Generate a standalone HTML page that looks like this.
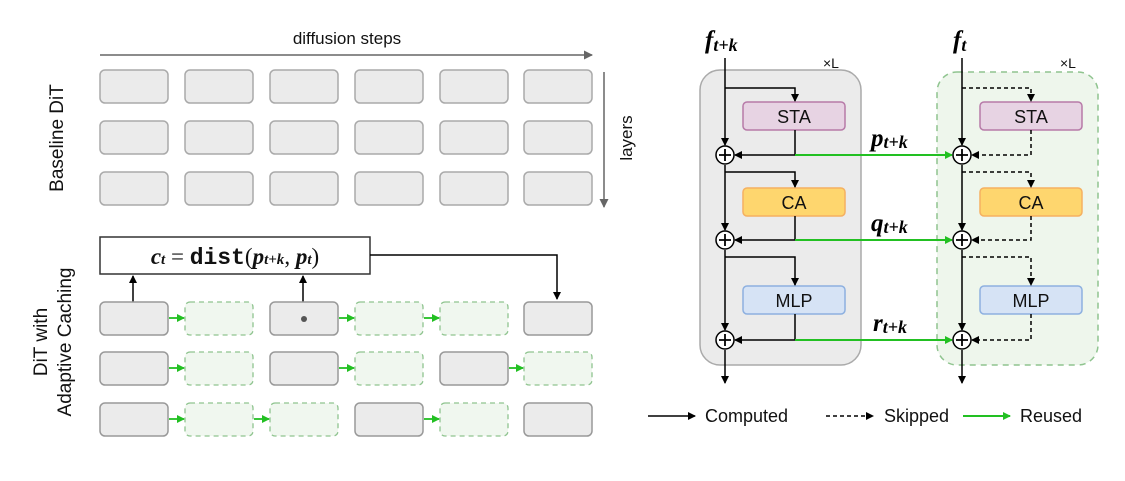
<!DOCTYPE html>
<html><head><meta charset="utf-8"><style>
html,body{margin:0;padding:0;background:#fff}
svg{display:block}
text{font-family:"Liberation Sans",sans-serif}
.m{font-family:"Liberation Serif",serif;font-style:italic;font-weight:bold}
</style></head><body>
<svg width="1125" height="481" viewBox="0 0 1125 481" xmlns="http://www.w3.org/2000/svg">
<defs>
<marker id="ak" markerWidth="8" markerHeight="8" refX="7" refY="4" orient="auto" markerUnits="userSpaceOnUse"><path d="M0,0 L8,4 L0,8 z" fill="#000"/></marker>
<marker id="ag" markerWidth="8" markerHeight="8" refX="7" refY="4" orient="auto" markerUnits="userSpaceOnUse"><path d="M0,0 L8,4 L0,8 z" fill="#22c022"/></marker>
<marker id="ay" markerWidth="9" markerHeight="9" refX="8" refY="4.5" orient="auto" markerUnits="userSpaceOnUse"><path d="M0,0 L9,4.5 L0,9 z" fill="#666"/></marker>
</defs>
<line x1="100" y1="55" x2="592" y2="55" stroke="#666" stroke-width="1.5" marker-end="url(#ay)"/>
<text x="347" y="44" font-size="17" text-anchor="middle" fill="#111">diffusion steps</text>
<line x1="604" y1="72" x2="604" y2="207" stroke="#666" stroke-width="1.5" marker-end="url(#ay)"/>
<text transform="translate(632,138) rotate(-90)" font-size="17" text-anchor="middle" fill="#111">layers</text>
<text transform="translate(63,138) rotate(-90)" font-size="19" text-anchor="middle" fill="#111">Baseline DiT</text>
<text transform="translate(47,342) rotate(-90)" font-size="19" text-anchor="middle" fill="#111">DiT with</text>
<text transform="translate(71,342) rotate(-90)" font-size="19" text-anchor="middle" fill="#111">Adaptive Caching</text>
<g fill="#ebebeb" stroke="#aaa" stroke-width="1.5">
<rect x="100" y="70" width="68" height="33" rx="5"/><rect x="185" y="70" width="68" height="33" rx="5"/><rect x="270" y="70" width="68" height="33" rx="5"/><rect x="355" y="70" width="68" height="33" rx="5"/><rect x="440" y="70" width="68" height="33" rx="5"/><rect x="524" y="70" width="68" height="33" rx="5"/>
<rect x="100" y="121" width="68" height="33" rx="5"/><rect x="185" y="121" width="68" height="33" rx="5"/><rect x="270" y="121" width="68" height="33" rx="5"/><rect x="355" y="121" width="68" height="33" rx="5"/><rect x="440" y="121" width="68" height="33" rx="5"/><rect x="524" y="121" width="68" height="33" rx="5"/>
<rect x="100" y="172" width="68" height="33" rx="5"/><rect x="185" y="172" width="68" height="33" rx="5"/><rect x="270" y="172" width="68" height="33" rx="5"/><rect x="355" y="172" width="68" height="33" rx="5"/><rect x="440" y="172" width="68" height="33" rx="5"/><rect x="524" y="172" width="68" height="33" rx="5"/>
</g>
<rect x="100" y="237" width="270" height="37" fill="#fff" stroke="#333" stroke-width="1.5"/>
<text x="235" y="264" font-size="23" text-anchor="middle" fill="#111"><tspan class="m" font-weight="normal">c</tspan><tspan class="m" font-weight="normal" font-size="15">t</tspan><tspan font-family="Liberation Serif"> = </tspan><tspan font-family="Liberation Mono" font-weight="bold">dist</tspan><tspan font-family="Liberation Serif">(</tspan><tspan class="m" font-weight="normal">p</tspan><tspan class="m" font-weight="normal" font-size="15">t+k</tspan><tspan font-family="Liberation Serif">,  </tspan><tspan class="m" font-weight="normal">p</tspan><tspan class="m" font-weight="normal" font-size="15">t</tspan><tspan font-family="Liberation Serif">)</tspan></text>
<g stroke="#000" stroke-width="1.5" fill="none">
<line x1="133" y1="302" x2="133" y2="276" marker-end="url(#ak)"/>
<line x1="303" y1="302" x2="303" y2="276" marker-end="url(#ak)"/>
<polyline points="370,255 557,255 557,299" marker-end="url(#ak)"/>
</g>
<g fill="#ebebeb" stroke="#999" stroke-width="1.5">
<rect x="100" y="302" width="68" height="33" rx="5"/><rect x="270" y="302" width="68" height="33" rx="5"/><rect x="524" y="302" width="68" height="33" rx="5"/>
<rect x="100" y="352" width="68" height="33" rx="5"/><rect x="270" y="352" width="68" height="33" rx="5"/><rect x="440" y="352" width="68" height="33" rx="5"/>
<rect x="100" y="403" width="68" height="33" rx="5"/><rect x="355" y="403" width="68" height="33" rx="5"/><rect x="524" y="403" width="68" height="33" rx="5"/>
</g>
<circle cx="304" cy="319" r="3" fill="#555"/>
<g fill="#f0f7ef" stroke="#8fc48f" stroke-width="1.3" stroke-dasharray="5,4">
<rect x="185" y="302" width="68" height="33" rx="5"/><rect x="355" y="302" width="68" height="33" rx="5"/><rect x="440" y="302" width="68" height="33" rx="5"/>
<rect x="185" y="352" width="68" height="33" rx="5"/><rect x="355" y="352" width="68" height="33" rx="5"/><rect x="524" y="352" width="68" height="33" rx="5"/>
<rect x="185" y="403" width="68" height="33" rx="5"/><rect x="270" y="403" width="68" height="33" rx="5"/><rect x="440" y="403" width="68" height="33" rx="5"/>
</g>
<g stroke="#22c022" stroke-width="1.8">
<line x1="169" y1="318" x2="184" y2="318" marker-end="url(#ag)"/><line x1="339" y1="318" x2="354" y2="318" marker-end="url(#ag)"/><line x1="424" y1="318" x2="439" y2="318" marker-end="url(#ag)"/>
<line x1="169" y1="368" x2="184" y2="368" marker-end="url(#ag)"/><line x1="339" y1="368" x2="354" y2="368" marker-end="url(#ag)"/><line x1="509" y1="368" x2="523" y2="368" marker-end="url(#ag)"/>
<line x1="169" y1="419" x2="184" y2="419" marker-end="url(#ag)"/><line x1="254" y1="419" x2="269" y2="419" marker-end="url(#ag)"/><line x1="424" y1="419" x2="439" y2="419" marker-end="url(#ag)"/>
</g>
<rect x="700" y="70" width="161" height="295" rx="20" fill="#ebebeb" stroke="#aaa" stroke-width="1.5"/>
<rect x="937" y="72" width="161" height="293" rx="20" fill="#eef6ec" stroke="#8fc48f" stroke-width="1.5" stroke-dasharray="6,5"/>
<text x="823" y="68" font-size="14" font-family="Liberation Serif" fill="#111">×L</text>
<text x="1060" y="68" font-size="14" font-family="Liberation Serif" fill="#111">×L</text>
<text x="705" y="48" font-size="25" class="m" fill="#000">f<tspan font-size="18" dy="3">t+k</tspan></text>
<text x="953" y="48" font-size="25" class="m" fill="#000">f<tspan font-size="18" dy="3">t</tspan></text>
<rect x="743" y="102" width="102" height="28" rx="4" fill="#e7d3e3" stroke="#b77aa8" stroke-width="1.5"/>
<rect x="743" y="188" width="102" height="28" rx="4" fill="#fed66e" stroke="#f5b060" stroke-width="1.5"/>
<rect x="743" y="286" width="102" height="28" rx="4" fill="#d6e3f5" stroke="#8db0e0" stroke-width="1.5"/>
<rect x="980" y="102" width="102" height="28" rx="4" fill="#e7d3e3" stroke="#b77aa8" stroke-width="1.5"/>
<rect x="980" y="188" width="102" height="28" rx="4" fill="#fed66e" stroke="#f5b060" stroke-width="1.5"/>
<rect x="980" y="286" width="102" height="28" rx="4" fill="#d6e3f5" stroke="#8db0e0" stroke-width="1.5"/>
<g font-size="18" text-anchor="middle" fill="#111">
<text x="794" y="123">STA</text><text x="794" y="209">CA</text><text x="794" y="307">MLP</text>
<text x="1031" y="123">STA</text><text x="1031" y="209">CA</text><text x="1031" y="307">MLP</text>
</g>
<g stroke="#000" stroke-width="1.5" fill="none">
<line x1="725" y1="58" x2="725" y2="145" marker-end="url(#ak)"/>
<line x1="725" y1="165" x2="725" y2="230" marker-end="url(#ak)"/>
<line x1="725" y1="250" x2="725" y2="330" marker-end="url(#ak)"/>
<line x1="725" y1="350" x2="725" y2="383" marker-end="url(#ak)"/>
<polyline points="725,88 795,88 795,101" marker-end="url(#ak)"/>
<polyline points="725,172 795,172 795,187" marker-end="url(#ak)"/>
<polyline points="725,257 795,257 795,285" marker-end="url(#ak)"/>
<polyline points="795,130 795,155 735,155" marker-end="url(#ak)"/>
<polyline points="795,216 795,240 735,240" marker-end="url(#ak)"/>
<polyline points="795,314 795,340 735,340" marker-end="url(#ak)"/>
<line x1="962" y1="58" x2="962" y2="145" marker-end="url(#ak)"/>
<line x1="962" y1="165" x2="962" y2="230" marker-end="url(#ak)"/>
<line x1="962" y1="250" x2="962" y2="330" marker-end="url(#ak)"/>
<line x1="962" y1="350" x2="962" y2="383" marker-end="url(#ak)"/>
</g>
<g stroke="#000" stroke-width="1.5" fill="none" stroke-dasharray="4,3">
<polyline points="962,88 1031,88 1031,101" marker-end="url(#ak)"/>
<polyline points="962,172 1031,172 1031,187" marker-end="url(#ak)"/>
<polyline points="962,257 1031,257 1031,285" marker-end="url(#ak)"/>
<polyline points="1031,130 1031,155 972,155" marker-end="url(#ak)"/>
<polyline points="1031,216 1031,240 972,240" marker-end="url(#ak)"/>
<polyline points="1031,314 1031,340 972,340" marker-end="url(#ak)"/>
</g>
<g stroke="#22c022" stroke-width="2">
<line x1="795" y1="155" x2="952" y2="155" marker-end="url(#ag)"/>
<line x1="795" y1="240" x2="952" y2="240" marker-end="url(#ag)"/>
<line x1="795" y1="340" x2="952" y2="340" marker-end="url(#ag)"/>
</g>
<g fill="#fff" stroke="#000" stroke-width="1.5">
<circle cx="725" cy="155" r="9"/><circle cx="725" cy="240" r="9"/><circle cx="725" cy="340" r="9"/>
<circle cx="962" cy="155" r="9"/><circle cx="962" cy="240" r="9"/><circle cx="962" cy="340" r="9"/>
</g>
<g stroke="#000" stroke-width="1.8">
<path d="M719,155 h12 M725,149 v12"/><path d="M719,240 h12 M725,234 v12"/><path d="M719,340 h12 M725,334 v12"/>
<path d="M956,155 h12 M962,149 v12"/><path d="M956,240 h12 M962,234 v12"/><path d="M956,340 h12 M962,334 v12"/>
</g>
<text x="871" y="146" font-size="25" class="m" fill="#000">p<tspan font-size="18" dy="2">t+k</tspan></text>
<text x="871" y="231" font-size="25" class="m" fill="#000">q<tspan font-size="18" dy="2">t+k</tspan></text>
<text x="873" y="331" font-size="25" class="m" fill="#000">r<tspan font-size="18" dy="2">t+k</tspan></text>
<line x1="648" y1="416" x2="695" y2="416" stroke="#000" stroke-width="1.5" marker-end="url(#ak)"/>
<text x="705" y="422" font-size="18" fill="#111">Computed</text>
<line x1="826" y1="416" x2="873" y2="416" stroke="#000" stroke-width="1.5" stroke-dasharray="4,3" marker-end="url(#ak)"/>
<text x="884" y="422" font-size="18" fill="#111">Skipped</text>
<line x1="963" y1="416" x2="1010" y2="416" stroke="#22c022" stroke-width="2" marker-end="url(#ag)"/>
<text x="1020" y="422" font-size="18" fill="#111">Reused</text>
</svg>
</body></html>
